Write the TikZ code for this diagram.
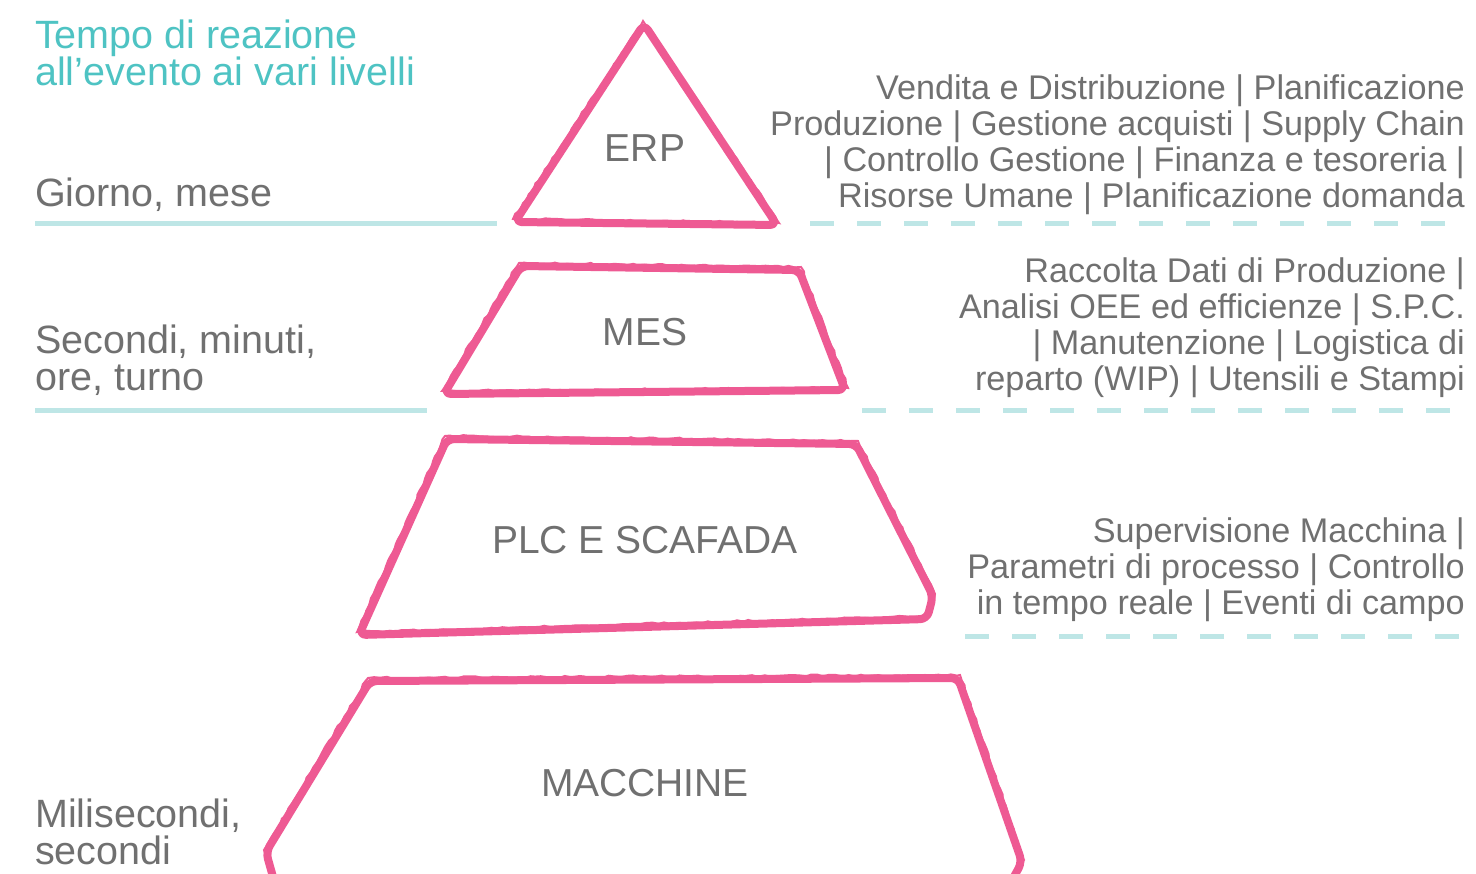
\documentclass[tikz,border=0pt]{standalone}
\usepackage{fontspec}
\setmainfont{Liberation Sans}
\usetikzlibrary{decorations.pathmorphing}
\definecolor{brush}{HTML}{EE5A93}
\definecolor{rule}{HTML}{BEE6E6}
\definecolor{ink}{HTML}{707070}
\definecolor{accent}{HTML}{4EC3C3}
\tikzstyle{level}=[draw=brush, line width=8pt, line join=round, line cap=round, rounded corners=7pt]
\tikzstyle{rough}=[draw=brush, line width=2pt, decorate, decoration={random steps, segment length=6pt, amplitude=1.2pt}]
\tikzstyle{divider}=[draw=rule, line width=5pt]
\tikzstyle{dashdivider}=[divider, dash pattern=on 24pt off 23pt]
\tikzstyle{tier}=[font=\fontsize{39}{39}\selectfont, text=ink, inner sep=0pt]
\tikzstyle{timing}=[anchor=west, align=left, font=\fontsize{39.5}{37}\selectfont, text=ink, inner sep=0pt]
\tikzstyle{tasks}=[anchor=east, align=right, font=\fontsize{34.2}{36}\selectfont, text=ink, inner sep=0pt]

\begin{document}
\begin{tikzpicture}[x=1pt, y=-1pt]
\useasboundingbox (0,0) rectangle (1476,874);
\clip (0,0) rectangle (1476,874);
% Dividers
    \draw[divider] (35,224) -- (497,224);
    \draw[divider] (35,411) -- (427,411);
    \draw[dashdivider] (810,224) -- (1466,224);
    \draw[dashdivider] (862,411) -- (1466,411);
    \draw[dashdivider] (965,636) -- (1466,636);
% Levels
    \draw[level] (644,24) -- (777,225) -- (515,222) -- cycle;
    \draw[rough] (643,21) -- (779,223) -- (513,219) -- cycle;
    \draw[level] (521,266) -- (799,270) -- (845,390) -- (444,394) -- cycle;
    \draw[rough] (519,263) -- (801,267) -- (848,388) -- (442,391) -- cycle;
    \draw[level] (447,439) -- (856,444) -- (933,596) -- (927,619) -- (359,635) -- cycle;
    \draw[rough] (445,436) -- (858,441) -- (935,594) -- (929,616) -- (357,632) -- cycle;
    \draw[level] (370,681) -- (958,678) -- (1022,862) -- (1010,884) -- (275,884) -- (266,852) -- cycle;
    \draw[rough] (368,678) -- (960,675) -- (1024,860) -- (1012,882) -- (273,882) -- (264,850) -- cycle;
% Level names
    \node[tier] (erp) at (645,148) {ERP};
    \node[tier] (mes) at (645,332) {MES};
    \node[tier] (plc) at (645,540) {PLC E SCAFADA};
    \node[tier] (machines) at (645,783) {MACCHINE};
% Reaction times
    \node[timing, text=accent] (title) at (35,53) {Tempo di reazione\\all’evento ai vari livelli};
    \node[timing] (daymonth) at (35,195) {Giorno, mese};
    \node[timing] (shift) at (35,360) {Secondi, minuti,\\ore, turno};
    \node[timing] (millis) at (35,832) {Milisecondi,\\secondi};
% Functions
    \node[tasks] (erptasks) at (1465,145) {Vendita e Distribuzione | Planificazione\\Produzione | Gestione acquisti | Supply Chain\\| Controllo Gestione | Finanza e tesoreria |\\Risorse Umane | Planificazione domanda};
    \node[tasks] (mestasks) at (1465,328) {Raccolta Dati di Produzione |\\Analisi OEE ed efficienze | S.P.C.\\| Manutenzione | Logistica di\\reparto (WIP) | Utensili e Stampi};
    \node[tasks] (plctasks) at (1465,570) {Supervisione Macchina |\\Parametri di processo | Controllo\\in tempo reale | Eventi di campo};
\end{tikzpicture}
\end{document}
